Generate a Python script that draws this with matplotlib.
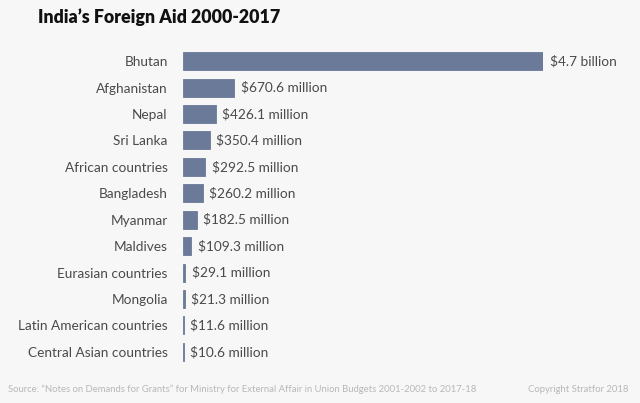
import matplotlib.pyplot as plt

# Datos (millones de USD)
countries = ["Bhutan", "Afghanistan", "Nepal", "Sri Lanka", "African countries",
             "Bangladesh", "Myanmar", "Maldives", "Eurasian countries", "Mongolia",
             "Latin American countries", "Central Asian countries"]
aid_millions = [4700, 670.6, 426.1, 350.4, 292.5, 260.2, 182.5, 109.3, 29.1, 21.3, 11.6, 10.6]
value_labels = ["$4.7 billion", "$670.6 million", "$426.1 million", "$350.4 million",
                "$292.5 million", "$260.2 million", "$182.5 million", "$109.3 million",
                "$29.1 million", "$21.3 million", "$11.6 million", "$10.6 million"]

BG = "#f7f7f7"
BAR = "#6b7a99"
TEXT = "#4a4a4a"

plt.rcParams['font.family'] = ['Lato', 'DejaVu Sans']

fig = plt.figure(figsize=(6.4, 4.03), dpi=100, facecolor=BG)
ax = fig.add_axes([183 / 640, 1 - 365 / 403, 360 / 640, (365 - 48) / 403])
ax.set_facecolor(BG)

y = list(range(len(countries)))
ax.barh(y, aid_millions, height=0.68, color=BAR, edgecolor=BAR, linewidth=0.6)
ax.set_xlim(0, 4700)
ax.set_ylim(len(countries) - 0.5, -0.5)

for i, (v, lab) in enumerate(zip(aid_millions, value_labels)):
    ax.text(v + 85, i, lab, va="center", ha="left", fontsize=9.8, color=TEXT, clip_on=False)

ax.set_yticks(y)
ax.set_yticklabels(countries, fontsize=9.8, color=TEXT)
ax.tick_params(axis="y", length=0, pad=11)
ax.set_xticks([])
for s in ax.spines.values():
    s.set_visible(False)

fig.text(38 / 640, 1 - 17 / 403, "India\u2019s Foreign Aid 2000-2017", fontsize=12.8,
         fontweight="heavy", color="#111111", va="center", ha="left")
fig.text(8 / 640, 1 - 389 / 403,
         "Source: \u201cNotes on Demands for Grants\u201d for Ministry for External Affair in Union Budgets 2001-2002 to 2017-18",
         fontsize=6.85, color="#b8b8b8", va="center", ha="left")
fig.text(629 / 640, 1 - 389 / 403, "Copyright Stratfor 2018", fontsize=6.85,
         color="#b8b8b8", va="center", ha="right")

fig.savefig("out.png", dpi=100, facecolor=BG)
